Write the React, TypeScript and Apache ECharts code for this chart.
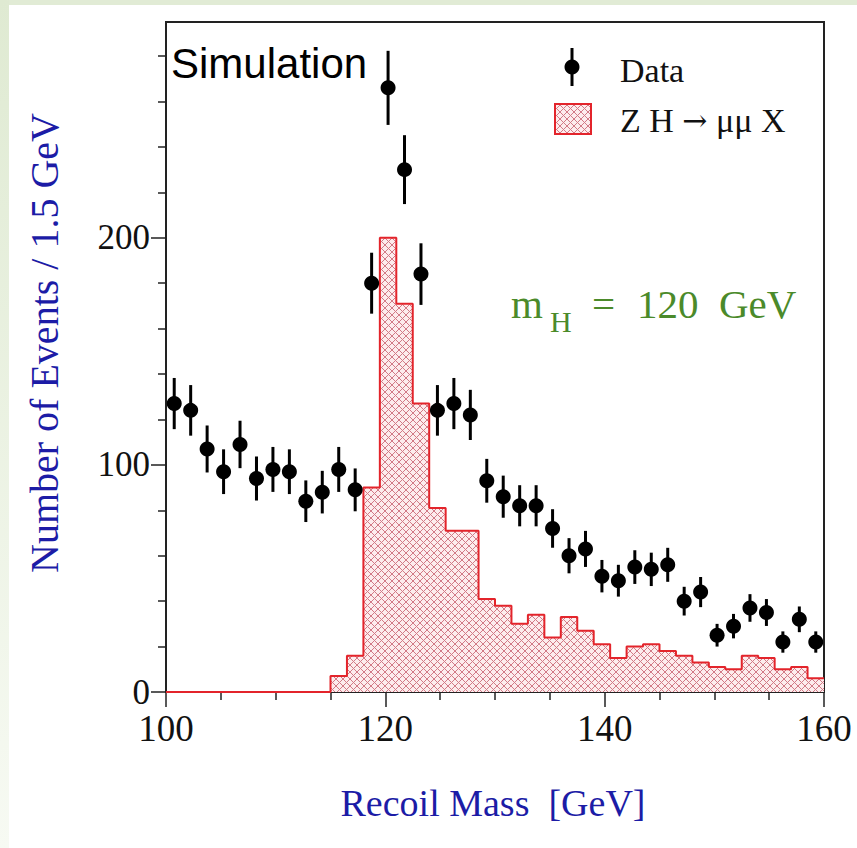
import React, { useEffect, useRef } from "react";
import * as echarts from "echarts";

// ---- data ----
const xRange = [100, 160];
const binStart = 100;
const binWidth = 1.5;
// ZH -> mu mu X signal histogram (events per 1.5 GeV bin)
const signalCounts = [
  0, 0, 0, 0, 0, 0, 0, 0, 0, 0,
  7, 16, 90, 200, 171, 127, 81, 71, 71, 41,
  38, 30, 34, 24, 33, 27, 21, 15, 20, 21,
  18, 16, 13, 11, 10, 16, 15, 10, 11, 6,
];
// Data points (events per bin, at bin centres)
const dataCounts = [
  127, 124, 107, 97, 109, 94, 98, 97, 84, 88,
  98, 89, 180, 266, 230, 184, 124, 127, 122, 93,
  86, 82, 82, 72, 60, 63, 51, 49, 55, 54,
  56, 40, 44, 25, 29, 37, 35, 22, 32, 22,
];
const yMajorTicks = [0, 100, 200];
const yMinorTicks = [20, 40, 60, 80, 120, 140, 160, 180, 220, 240, 260, 280];
const xMajorInterval = 20;

function makeHatch(): HTMLCanvasElement {
  const s = 7;
  const c = document.createElement("canvas");
  c.width = s;
  c.height = s;
  const g = c.getContext("2d")!;
  g.fillStyle = "#fdeced";
  g.fillRect(0, 0, s, s);
  g.strokeStyle = "#d27a86";
  g.lineWidth = 1;
  g.beginPath();
  g.moveTo(-1, -1);
  g.lineTo(s + 1, s + 1);
  g.moveTo(-1, s + 1);
  g.lineTo(s + 1, -1);
  g.stroke();
  return c;
}

export default function App() {
  const ref = useRef<HTMLDivElement>(null);
  useEffect(() => {
    document.body.style.margin = "0";
    if (!ref.current) return;
    const chart = echarts.init(ref.current, null, { renderer: "svg" });
    const hatch = makeHatch();
    const pattern: any = { image: hatch, repeat: "repeat" };

    const histData: number[][] = signalCounts.map((v, i) => [binStart + i * binWidth, v]);
    histData.push([binStart + signalCounts.length * binWidth, signalCounts[signalCounts.length - 1]]);
    const pointData = dataCounts.map((v, i) => [binStart + (i + 0.5) * binWidth, v, Math.sqrt(v)]);

    const serif = "Liberation Serif";
    const axisColor = "#222";
    const red = "#e3242b";
    const blue = "#1c1ca6";
    const green = "#4b8a2a";

    const option: any = {
      animation: false,
      backgroundColor: "#ffffff",
      grid: {
        left: 166,
        right: 33,
        top: 22,
        bottom: 156,
        show: true,
        borderColor: axisColor,
        borderWidth: 2,
        backgroundColor: "transparent",
      },
      xAxis: [
        {
          type: "value",
          min: xRange[0],
          max: xRange[1],
          interval: xMajorInterval,
          position: "bottom",
          axisLine: { show: true, onZero: false, lineStyle: { color: axisColor, width: 2 } },
          axisTick: { show: true, length: 15, lineStyle: { color: axisColor, width: 1.5 } },
          minorTick: { show: true, splitNumber: 4, length: 8, lineStyle: { color: axisColor, width: 1.5 } },
          axisLabel: { fontFamily: serif, fontSize: 37, color: "#111", margin: 18 },
          splitLine: { show: false },
        },
      ],
      yAxis: [
        {
          type: "value",
          min: 0,
          max: 295,
          position: "left",
          axisLine: { show: true, onZero: false, lineStyle: { color: axisColor, width: 2 } },
          axisTick: { show: true, length: 15, customValues: yMajorTicks, lineStyle: { color: axisColor, width: 1.5 } },
          axisLabel: { fontFamily: serif, fontSize: 35, color: "#111", margin: 16, customValues: yMajorTicks },
          splitLine: { show: false },
        },
        {
          type: "value",
          min: 0,
          max: 295,
          position: "left",
          axisLine: { show: false },
          axisTick: { show: true, length: 8, customValues: yMinorTicks, lineStyle: { color: axisColor, width: 1.5 } },
          axisLabel: { show: false },
          splitLine: { show: false },
        },
      ],
      series: [
        {
          type: "line",
          step: "end",
          data: histData,
          symbol: "none",
          lineStyle: { color: red, width: 2 },
          areaStyle: { color: pattern, opacity: 1 },
          z: 2,
        },
        {
          type: "custom",
          data: pointData,
          z: 3,
          renderItem: (params: any, api: any) => {
            const x = api.value(0);
            const y = api.value(1);
            const e = api.value(2);
            const c = api.coord([x, y]);
            const t = api.coord([x, y + e]);
            const b = api.coord([x, y - e]);
            return {
              type: "group",
              children: [
                { type: "line", shape: { x1: c[0], y1: t[1], x2: c[0], y2: b[1] }, style: { stroke: "#000", lineWidth: 3 } },
                { type: "circle", shape: { cx: c[0], cy: c[1], r: 7.5 }, style: { fill: "#000" } },
              ],
            };
          },
        },
      ],
      graphic: [
        // page frame
        { type: "rect", shape: { x: 0, y: 0, width: 857, height: 5 }, style: { fill: "#e1ebd5" }, z: 10 },
        {
          type: "rect",
          shape: { x: 0, y: 0, width: 9, height: 848 },
          style: {
            fill: new echarts.graphic.LinearGradient(0, 0, 0, 1, [
              { offset: 0, color: "#dfead2" },
              { offset: 1, color: "#f7faf3" },
            ]),
          },
          z: 10,
        },
        // Simulation label
        {
          type: "text",
          x: 171,
          y: 63,
          style: { text: "Simulation", fontFamily: "Liberation Sans", fontSize: 42, fill: "#000", verticalAlign: "middle" },
          z: 10,
        },
        // legend: data
        { type: "line", shape: { x1: 572, y1: 48, x2: 572, y2: 86 }, style: { stroke: "#000", lineWidth: 3 }, z: 10 },
        { type: "circle", shape: { cx: 572, cy: 67, r: 7.5 }, style: { fill: "#000" }, z: 10 },
        {
          type: "text",
          x: 620,
          y: 70,
          style: { text: "Data", fontFamily: serif, fontSize: 34, fill: "#111", verticalAlign: "middle" },
          z: 10,
        },
        // legend: signal
        {
          type: "rect",
          shape: { x: 555, y: 104, width: 36, height: 30 },
          style: { fill: pattern, stroke: red, lineWidth: 2 },
          z: 10,
        },
        {
          type: "text",
          x: 620,
          y: 120,
          style: {
            text: "Z H {a|\u2192} \u03bc\u03bc X",
            fontFamily: serif,
            fontSize: 34,
            fill: "#111",
            verticalAlign: "middle",
            rich: { a: { fontFamily: "DejaVu Serif", fontSize: 30, fill: "#111" } },
          },
          z: 10,
        },
        // m_H label
        {
          type: "text",
          x: 511,
          y: 304,
          style: { text: "m", fontFamily: serif, fontSize: 41, fill: green, verticalAlign: "middle" },
          z: 10,
        },
        {
          type: "text",
          x: 550,
          y: 321,
          style: { text: "H", fontFamily: serif, fontSize: 30, fill: green, verticalAlign: "middle" },
          z: 10,
        },
        {
          type: "text",
          x: 592,
          y: 304,
          style: { text: "=", fontFamily: serif, fontSize: 41, fill: green, verticalAlign: "middle" },
          z: 10,
        },
        {
          type: "text",
          x: 637,
          y: 304,
          style: { text: "120  GeV", fontFamily: serif, fontSize: 41, fill: green, verticalAlign: "middle" },
          z: 10,
        },
        // axis titles
        {
          type: "text",
          x: 493,
          y: 803,
          style: { text: "Recoil Mass  [GeV]", fontFamily: serif, fontSize: 38, fill: blue, align: "center", verticalAlign: "middle" },
          z: 10,
        },
        {
          type: "text",
          x: 44,
          y: 343,
          rotation: Math.PI / 2,
          style: { text: "Number of Events / 1.5 GeV", fontFamily: serif, fontSize: 40, fill: blue, align: "center", verticalAlign: "middle" },
          z: 10,
        },
      ],
    };
    chart.setOption(option);
    return () => chart.dispose();
  }, []);
  return <div ref={ref} style={{ width: 857, height: 848 }} />;
}
